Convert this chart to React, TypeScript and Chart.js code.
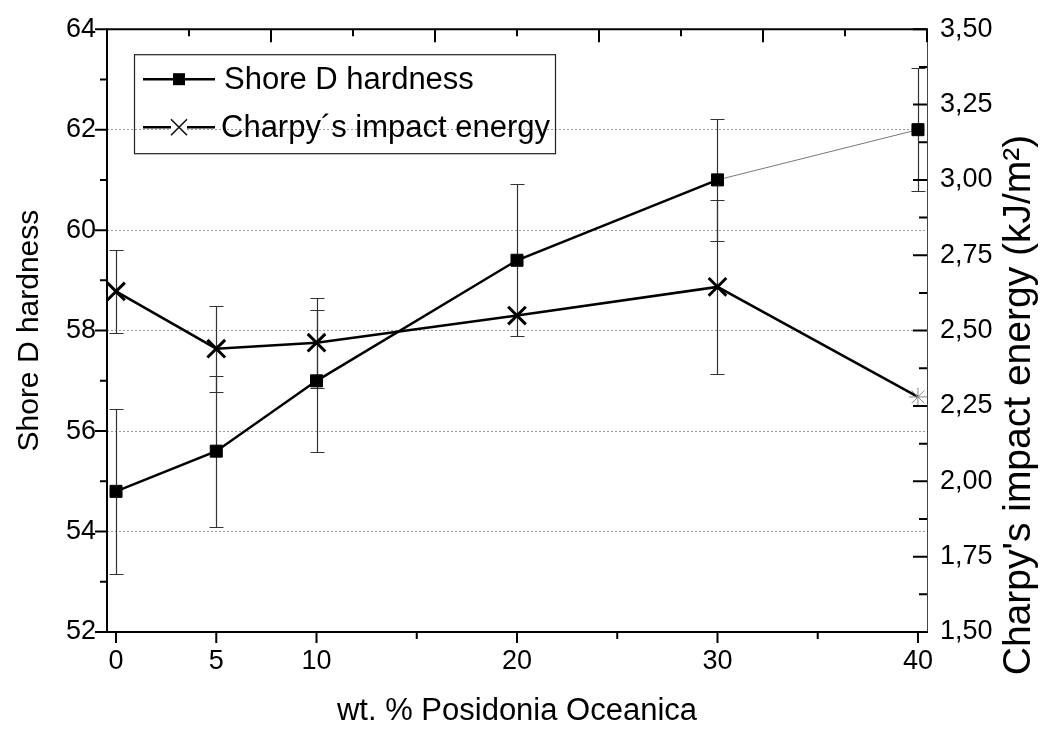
import React, { useEffect, useRef } from "react";
import { Chart, registerables } from "chart.js";

Chart.register(...registerables);

// ---- data ----
const xValues = [0, 5, 10, 20, 30, 40];
const shoreD = [54.8, 55.6, 57.0, 59.4, 61.0, 62.0];
const shoreDErr = [1.64, 1.5, 1.41, 1.51, 1.21, 1.22];
const charpy = [2.63, 2.44, 2.46, 2.55, 2.645, 2.28];
const charpyErr = [0.139, 0.143, 0.149, 0, 0.289, 0];

const xMajorTicks = [0, 5, 10, 20, 30, 40];
const xMinorTicks = [15, 25, 35];
const leftMajorTicks = [52, 54, 56, 58, 60, 62, 64];
const leftMinorTicks = [53, 55, 57, 59, 61, 63];
const rightMajorTicks = [1.5, 1.75, 2.0, 2.25, 2.5, 2.75, 3.0, 3.25, 3.5];
const rightMinorTicks = [1.625, 1.875, 2.125, 2.375, 2.625, 2.875, 3.125, 3.375];
const topTicks = [0, 1, 2, 3, 4, 5, 6, 7, 8, 9, 10];

const seriesNames = ["Shore D hardness", "Charpy\u00b4s impact energy"];
const xTitle = "wt. % Posidonia Oceanica";
const yLeftTitle = "Shore D hardness";
const yRightTitle = "Charpy's impact energy (kJ/m\u00b2)";

const FONT = "'Liberation Sans', Arial, Helvetica, sans-serif";

const errorBarPlugin = {
  id: "errorBars",
  beforeDatasetsDraw(chart: any) {
    const { ctx } = chart;
    const xs = chart.scales.x;
    const yl = chart.scales.y;
    const yr = chart.scales.yR;
    ctx.save();
    ctx.strokeStyle = "#333";
    ctx.lineWidth = 1.2;
    const bar = (xv: number, yv: number, e: number, ys: any) => {
      if (!e) return;
      const px = Math.round(xs.getPixelForValue(xv)) + 0.5;
      const p1 = Math.round(ys.getPixelForValue(yv + e)) + 0.5;
      const p2 = Math.round(ys.getPixelForValue(yv - e)) + 0.5;
      ctx.beginPath();
      ctx.moveTo(px, p1);
      ctx.lineTo(px, p2);
      ctx.moveTo(px - 7, p1);
      ctx.lineTo(px + 7, p1);
      ctx.moveTo(px - 7, p2);
      ctx.lineTo(px + 7, p2);
      ctx.stroke();
    };
    xValues.forEach((xv, i) => {
      bar(xv, shoreD[i], shoreDErr[i], yl);
      bar(xv, charpy[i], charpyErr[i], yr);
    });
    ctx.restore();
  },
};

const framePlugin = {
  id: "frame",
  afterDraw(chart: any) {
    const { ctx, chartArea } = chart;
    const { left, right, top, bottom } = chartArea;
    const xs = chart.scales.x;
    const x2 = chart.scales.x2;
    const yl = chart.scales.y;
    const yr = chart.scales.yR;
    ctx.save();
    // right axis (thin)
    ctx.strokeStyle = "#444";
    ctx.lineWidth = 1;
    ctx.beginPath();
    ctx.moveTo(right + 0.5, top);
    ctx.lineTo(right + 0.5, bottom);
    ctx.stroke();
    // thick frame lines
    ctx.strokeStyle = "#000";
    ctx.lineWidth = 2;
    ctx.beginPath();
    ctx.moveTo(left, top);
    ctx.lineTo(left, bottom + 1);
    ctx.moveTo(left - 1, bottom);
    ctx.lineTo(right + 1, bottom);
    ctx.moveTo(left - 1, top);
    ctx.lineTo(right + 1, top);
    ctx.stroke();

    ctx.lineWidth = 2;
    ctx.beginPath();
    // left ticks (outward)
    leftMajorTicks.forEach((v) => {
      const p = yl.getPixelForValue(v);
      ctx.moveTo(left, p);
      ctx.lineTo(left - 12, p);
    });
    leftMinorTicks.forEach((v) => {
      const p = yl.getPixelForValue(v);
      ctx.moveTo(left, p);
      ctx.lineTo(left - 7, p);
    });
    // bottom ticks (outward)
    xMajorTicks.forEach((v) => {
      const p = xs.getPixelForValue(v);
      ctx.moveTo(p, bottom);
      ctx.lineTo(p, bottom + 11);
    });
    xMinorTicks.forEach((v) => {
      const p = xs.getPixelForValue(v);
      ctx.moveTo(p, bottom);
      ctx.lineTo(p, bottom + 7);
    });
    // top ticks (inward)
    topTicks.forEach((v) => {
      const p = x2.getPixelForValue(v);
      ctx.moveTo(p, top);
      ctx.lineTo(p, top + (v % 2 === 0 ? 13 : 7));
    });
    // right ticks (inward)
    rightMajorTicks.forEach((v) => {
      const p = yr.getPixelForValue(v);
      ctx.moveTo(right, p);
      ctx.lineTo(right - 14, p);
    });
    rightMinorTicks.forEach((v) => {
      const p = yr.getPixelForValue(v);
      ctx.moveTo(right, p);
      ctx.lineTo(right - 8, p);
    });
    ctx.stroke();

    // right axis title (reads bottom-to-top)
    ctx.save();
    ctx.translate(1019, 405);
    ctx.rotate(-Math.PI / 2);
    ctx.fillStyle = "#000";
    ctx.font = `39px ${FONT}`;
    ctx.textAlign = "center";
    ctx.textBaseline = "middle";
    ctx.fillText(yRightTitle, 0, 0);
    ctx.restore();

    // legend
    const bx = left + 27;
    const by = top + 25;
    const bw = 421;
    const bh = 99;
    ctx.strokeStyle = "#222";
    ctx.lineWidth = 1.2;
    ctx.strokeRect(bx + 0.5, by + 0.5, bw, bh);
    const rows = [by + 25, by + 73];
    const sx0 = bx + 9;
    const sx1 = bx + 81;
    const sxc = (sx0 + sx1) / 2;
    ctx.strokeStyle = "#000";
    ctx.lineWidth = 2.5;
    rows.forEach((ry) => {
      ctx.beginPath();
      ctx.moveTo(sx0, ry);
      ctx.lineTo(sx1, ry);
      ctx.stroke();
    });
    ctx.fillStyle = "#000";
    ctx.fillRect(sxc - 6, rows[0] - 6, 12, 12);
    ctx.fillStyle = "#fff";
    ctx.fillRect(sxc - 8, rows[1] - 9, 16, 18);
    ctx.strokeStyle = "#111";
    ctx.lineWidth = 1.6;
    ctx.beginPath();
    ctx.moveTo(sxc - 8, rows[1] - 8);
    ctx.lineTo(sxc + 8, rows[1] + 8);
    ctx.moveTo(sxc + 8, rows[1] - 8);
    ctx.lineTo(sxc - 8, rows[1] + 8);
    ctx.stroke();
    ctx.fillStyle = "#000";
    ctx.font = `31px ${FONT}`;
    ctx.textBaseline = "middle";
    ctx.textAlign = "left";
    ctx.fillText(seriesNames[0], bx + 90, rows[0] + 1);
    ctx.fillText(seriesNames[1], bx + 87, rows[1] + 1);
    ctx.restore();
  },
};

export default function App() {
  const ref = useRef<HTMLCanvasElement | null>(null);

  useEffect(() => {
    if (!ref.current) return;
    const chart = new Chart(ref.current, {
      type: "line",
      data: {
        datasets: [
          {
            label: seriesNames[0],
            data: xValues.map((x, i) => ({ x, y: shoreD[i] })),
            yAxisID: "y",
            xAxisID: "x",
            borderColor: "#000",
            borderWidth: 2.5,
            pointStyle: "rect",
            pointRadius: 8.5,
            pointBackgroundColor: "#000",
            pointBorderColor: "#000",
            pointBorderWidth: 1,
            tension: 0,
            clip: false,
            segment: {
              borderWidth: (c: any) => (c.p0DataIndex === 4 ? 0.8 : 2.5),
              borderColor: (c: any) => (c.p0DataIndex === 4 ? "#555" : "#000"),
            },
          } as any,
          {
            label: seriesNames[1],
            data: xValues.map((x, i) => ({ x, y: charpy[i] })),
            yAxisID: "yR",
            xAxisID: "x",
            borderColor: "#000",
            borderWidth: 2.5,
            pointStyle: ["crossRot", "crossRot", "crossRot", "crossRot", "crossRot", "star"],
            pointRadius: [12.5, 12.5, 12.5, 12.5, 12.5, 9],
            pointBackgroundColor: "#000",
            pointBorderColor: ["#000", "#000", "#000", "#000", "#000", "#888"],
            pointBorderWidth: [3, 3, 3, 3, 3, 1],
            tension: 0,
            clip: false,
          } as any,
        ],
      },
      options: {
        responsive: false,
        animation: false,
        events: [],
        layout: { padding: { top: 21, left: 0, right: 0, bottom: 0 } },
        plugins: {
          legend: { display: false },
          tooltip: { enabled: false },
        },
        scales: {
          x: {
            type: "linear",
            position: "bottom",
            min: -0.45,
            max: 40.45,
            afterBuildTicks: (s: any) => {
              s.ticks = xMajorTicks.map((v) => ({ value: v }));
            },
            ticks: {
              font: { family: FONT, size: 27 },
              color: "#000",
              padding: 13,
              maxRotation: 0,
              autoSkip: false,
            },
            grid: { display: false, drawTicks: false },
            border: { display: false },
            title: {
              display: true,
              text: xTitle,
              color: "#000",
              font: { family: FONT, size: 31 },
              padding: { top: 0, bottom: -1 },
            },
            afterFit: (s: any) => {
              s.height = 97;
            },
          },
          x2: {
            type: "linear",
            position: "top",
            min: 0,
            max: 10,
            display: false,
          },
          y: {
            type: "linear",
            position: "left",
            min: 52,
            max: 64,
            afterBuildTicks: (s: any) => {
              s.ticks = leftMajorTicks.map((v) => ({ value: v }));
            },
            ticks: {
              font: { family: FONT, size: 27 },
              color: "#000",
              padding: 11,
            },
            grid: {
              drawTicks: false,
              color: (c: any) =>
                c.tick && (c.tick.value === 52 || c.tick.value === 64) ? "rgba(0,0,0,0)" : "#9a9a9a",
              lineWidth: 1,
            },
            border: { display: false, dash: [2, 2] },
            title: {
              display: true,
              text: yLeftTitle,
              color: "#000",
              font: { family: FONT, size: 30 },
              padding: { top: 12, bottom: 0 },
            },
            afterFit: (s: any) => {
              s.width = 107;
            },
          },
          yR: {
            type: "linear",
            position: "right",
            min: 1.5,
            max: 3.5,
            afterBuildTicks: (s: any) => {
              s.ticks = rightMajorTicks.map((v) => ({ value: v }));
            },
            ticks: {
              font: { family: FONT, size: 27 },
              color: "#000",
              padding: 13,
              callback: (v: any) => Number(v).toFixed(2).replace(".", ","),
            },
            grid: { display: false, drawTicks: false },
            border: { display: false },
            title: { display: false },
            afterFit: (s: any) => {
              s.width = 116;
            },
          },
        },
      } as any,
      plugins: [errorBarPlugin, framePlugin],
    });
    return () => chart.destroy();
  }, []);

  return (
    <div style={{ position: "fixed", left: 0, top: 0, width: 1043, height: 729, background: "#fff" }}>
      <canvas ref={ref} width={1043} height={729} />
    </div>
  );
}
